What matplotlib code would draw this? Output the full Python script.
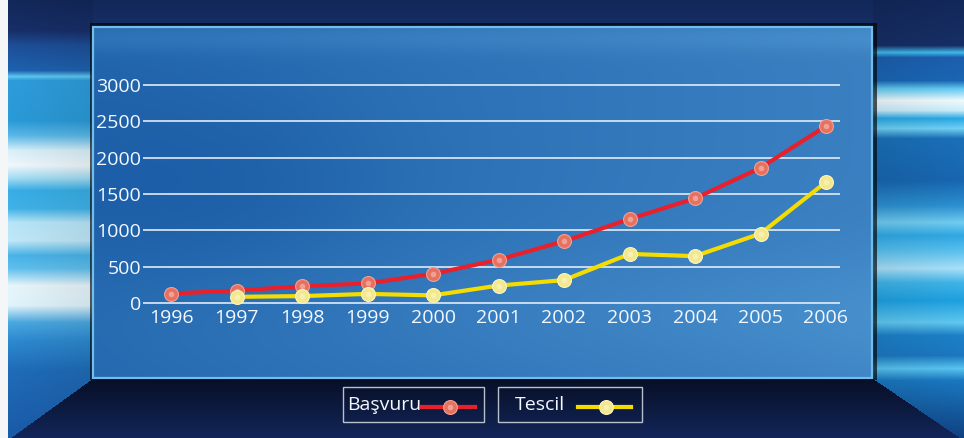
import numpy as np
import matplotlib
matplotlib.use("Agg")
import matplotlib.pyplot as plt
from matplotlib.patches import Rectangle

# ---------------- data ----------------
years = [1996, 1997, 1998, 1999, 2000, 2001, 2002, 2003, 2004, 2005, 2006]
basvuru = [130, 170, 230, 270, 400, 595, 850, 1155, 1440, 1860, 2435]
tescil_years = [1997, 1998, 1999, 2000, 2001, 2002, 2003, 2004, 2005, 2006]
tescil = [85, 95, 125, 105, 240, 315, 675, 645, 955, 1665]
y_ticks = [0, 500, 1000, 1500, 2000, 2500, 3000]
legend_labels = ["Başvuru", "Tescil"]

W, H = 964, 438
FONT = "Open Sans"

# ---------------- background image ----------------
yy, xx = np.mgrid[0:H, 0:W].astype(float)

def hexc(h):
    h = h.lstrip('#')
    return np.array([int(h[i:i + 2], 16) for i in (0, 2, 4)]) / 255.0

def profile(stops):
    ys = np.array([s[0] for s in stops], float)
    cs = np.array([hexc(s[1]) for s in stops])
    rows = np.arange(H)
    return np.stack([np.interp(rows, ys, cs[:, k]) for k in range(3)], axis=1)

left_prof = profile([(0, '#13285a'), (30, '#172f68'), (45, '#1d4f98'), (70, '#1e62b0'),
                     (76, '#5cc8f2'), (80, '#2e9cdc'), (120, '#2a9ad8'), (135, '#5ab8e8'),
                     (150, '#d8f0fa'), (165, '#f0f8fc'), (178, '#a0dcf4'), (190, '#38aee6'),
                     (208, '#40b2e8'), (222, '#b8e6f8'), (240, '#c0e8f8'), (255, '#48b4e8'),
                     (268, '#60c0ee'), (285, '#e8f6fc'), (305, '#e0f4fc'), (322, '#4aa8e0'),
                     (340, '#2e8ad0'), (370, '#1f6cb8'), (438, '#1a5aa8')])
right_prof = profile([(0, '#13285a'), (45, '#172f66'), (52, '#40b8ec'), (57, '#1c5fae'),
                      (80, '#1a66b4'), (88, '#60c8f0'), (100, '#f0fafe'), (110, '#c8ecfa'),
                      (118, '#2aa8e4'), (128, '#70d0f4'), (138, '#1a70b8'), (180, '#1866b0'),
                      (205, '#2c90d0'), (222, '#70ccf0'), (235, '#30a8e4'), (250, '#58c0ee'),
                      (268, '#a8e0f8'), (282, '#40b4e8'), (300, '#1ea0e0'), (322, '#60c8f0'),
                      (335, '#1c80c8'), (355, '#1c78c0'), (368, '#58c4f0'), (380, '#1a78c0'),
                      (438, '#104080')])
top_prof = profile([(0, '#13285a'), (30, '#172f66'), (438, '#172f66')])

img = np.zeros((H, W, 3))
img[:] = top_prof[:, None, :]
lmask = (xx < 93)
rmask = (xx > 872)
shade_l = (0.92 + 0.08 * np.clip((93 - xx) / 85, 0, 1))[..., None]
shade_r = (0.92 + 0.08 * np.clip((xx - 872) / 90, 0, 1))[..., None]
img = np.where(lmask[..., None], left_prof[:, None, :] * shade_l, img)
img = np.where(rmask[..., None], right_prof[:, None, :] * shade_r, img)

# floor (between diagonals, below panel)
px0, px1, py0, py1 = 93, 872, 27, 378
lx = px0 - (yy - py1) * (83.0 / 60.0)
rx = px1 + (yy - py1) * (88.0 / 60.0)
floor = (yy >= py1) & (xx >= lx) & (xx <= rx)
fv = np.clip((yy - py1) / 60.0, 0, 1)[..., None]
floor_col = hexc('#070f26') * (1 - fv) + hexc('#13265a') * fv
img = np.where(floor[..., None], floor_col, img)
# panel shadow
shadow = (xx >= px0 - 3) & (xx <= px1 + 4) & (yy >= py0 - 4) & (yy <= py1 + 1)
img = np.where(shadow[..., None], img * 0.35, img)
# panel
inside = (xx >= px0) & (xx <= px1) & (yy >= py0) & (yy <= py1)
fx = (xx - px0) / (px1 - px0)
fy = (yy - py0) / (py1 - py0)
dark = hexc('#185aa4')
light = hexc('#4b93d0')
f = 0.22 + 0.45 * fx + 0.22 * np.exp(-((yy - 38) / 14.0) ** 2) \
    + 0.25 * np.exp(-((fy - 0.82) / 0.2) ** 2) * (0.4 + 0.6 * fx) \
    - 0.18 * np.exp(-((fx - 0.15) / 0.25) ** 2 - ((fy - 0.45) / 0.3) ** 2)
f = np.clip(f, 0, 1)[..., None]
pcol = dark * (1 - f) + light * f
img = np.where(inside[..., None], pcol, img)
# left white strip
img[:, :8] = hexc('#f4f6f8')
img = np.clip(img, 0, 1)

fig = plt.figure(figsize=(W / 100, H / 100), dpi=100)
bg = fig.add_axes([0, 0, 1, 1])
bg.imshow(img, extent=(0, W, H, 0), aspect='auto', interpolation='bilinear', zorder=0)
bg.set_xlim(0, W)
bg.set_ylim(H, 0)
bg.axis('off')
# panel border
bg.add_patch(Rectangle((px0, py0), px1 - px0, py1 - py0, fill=False,
                       edgecolor='#72bdea', lw=1.6, zorder=1))

# ---------------- chart axes ----------------
ax_l, ax_r, ax_top, ax_bot = 143, 840, 85, 303
ax = fig.add_axes([ax_l / W, (H - ax_bot) / H, (ax_r - ax_l) / W, (ax_bot - ax_top) / H])
ax.patch.set_alpha(0)
for s in ax.spines.values():
    s.set_visible(False)
step = (826 - 171) / 10.0
ax.set_xlim(1996 - (171 - ax_l) / step, 2006 + (ax_r - 826) / step)
ax.set_ylim(0, 3000)
ax.hlines(y_ticks, 0, 1, transform=ax.get_yaxis_transform(), colors='#e6eef8',
          lw=1.3, alpha=0.9, clip_on=False, zorder=1)
ax.set_yticks(y_ticks)
ax.set_yticklabels([str(v) for v in y_ticks], fontsize=14, color='#f4f8ff', family=FONT)
ax.set_xticks(years)
ax.set_xticklabels([str(v) for v in years], fontsize=14, color='#f4f8ff', family=FONT)
ax.tick_params(axis='y', length=0, pad=1.5)
ax.tick_params(axis='x', length=0, pad=4)

red, red_m, red_e = '#e8202c', '#e8705e', '#f4a090'
yel, yel_m, yel_e = '#f5dc00', '#f4e88c', '#fbf4c0'

def series(x, y, lc, mc, me, z):
    ax.plot(x, y, color=lc, lw=3.0, zorder=z, clip_on=False, solid_capstyle='round')
    ax.plot(x, y, ls='none', marker='o', ms=10, mfc=mc, mec=me, mew=0.8, zorder=z + 1, clip_on=False)
    ax.plot(x, y, ls='none', marker='o', ms=4, mfc='white', mec='none', alpha=0.35, zorder=z + 2, clip_on=False)

series(years, basvuru, red, red_m, red_e, 3)
series(tescil_years, tescil, yel, yel_m, yel_e, 6)

# ---------------- legend ----------------
boxes = [(342.5, 141, legend_labels[0], 347, 421.5, 475, 450, red, red_m, red_e),
         (497.5, 144, legend_labels[1], 515, 578, 631, 606, yel, yel_m, yel_e)]
for bx, bw, lab, tx, l0, l1, mx, lc, mc, me in boxes:
    bg.add_patch(Rectangle((bx, 386.5), bw, 35, fill=False, edgecolor='#b8c0cc', lw=1.0, zorder=3))
    bg.text(tx, 405, lab, fontsize=14, color='#f4f8ff', family=FONT, va='center', ha='left', zorder=4)
    bg.plot([l0, l1], [407.3, 407.3], color=lc, lw=3.0, zorder=4)
    bg.plot([mx], [407.3], ls='none', marker='o', ms=10, mfc=mc, mec=me, mew=0.8, zorder=5)
    bg.plot([mx], [407.3], ls='none', marker='o', ms=4, mfc='white', mec='none', alpha=0.35, zorder=6)

fig.savefig('out.png', dpi=100)
